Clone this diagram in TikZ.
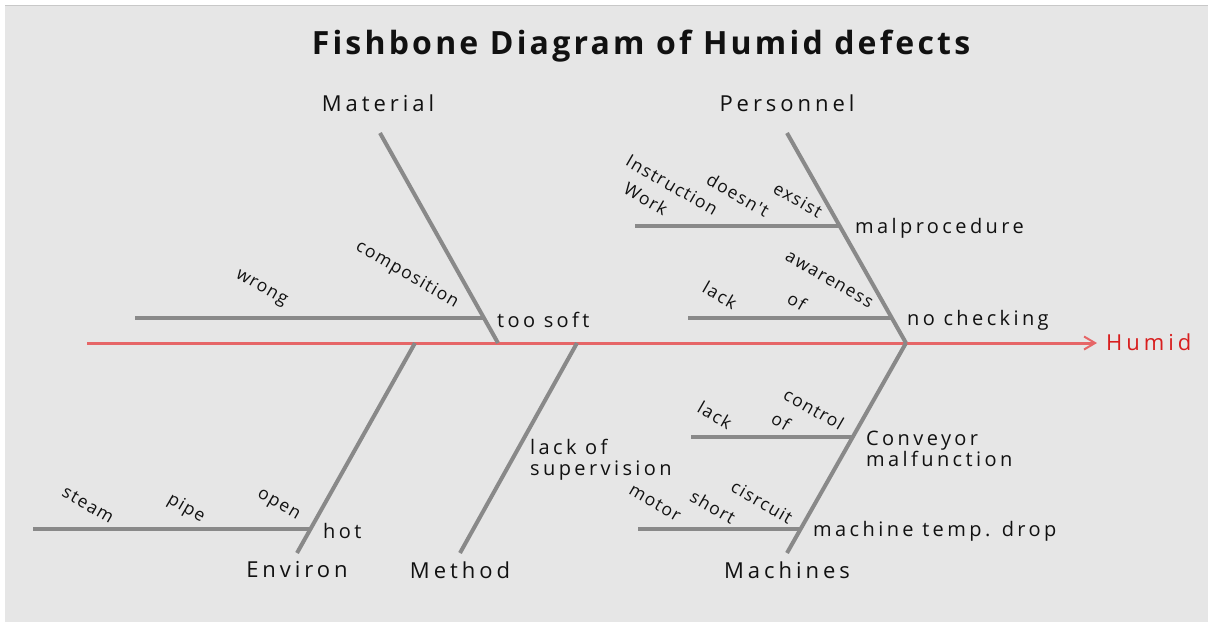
\documentclass[tikz,border=0pt]{standalone}
\usepackage{fontspec}
\setmainfont{Open Sans}
\newfontfamily\headfont{Open Sans}[LetterSpace=10]
\newfontfamily\catfont{Open Sans}[LetterSpace=18]
\newfontfamily\causefont{Open Sans}[LetterSpace=17]
\newfontfamily\wordfont{Open Sans}[LetterSpace=8]
\usetikzlibrary{arrows.meta}
\definecolor{panel}{HTML}{E6E6E6}
\definecolor{panelrule}{HTML}{C8C8C8}
\definecolor{bonegray}{HTML}{898989}
\definecolor{spinered}{HTML}{E66667}
\definecolor{effectred}{HTML}{D81E1E}
\definecolor{ink}{HTML}{111111}
\begin{document}
\begin{tikzpicture}[x=1pt,y=-1pt,
  bone/.style={draw=bonegray, line width=4pt},
  spine/.style={draw=spinered, line width=3pt,
    -{Straight Barb[length=11pt,width=13pt,line width=2pt]}},
  titletext/.style={font=\headfont\bfseries\fontsize{32}{36}\selectfont, text=ink, inner sep=0pt},
  cat/.style={font=\catfont\fontsize{22}{26}\selectfont, text=ink, inner sep=0pt},
  cause/.style={font=\causefont\fontsize{20}{21}\selectfont, text=ink, anchor=west,
    inner sep=0pt, align=left},
  word/.style={font=\wordfont\fontsize{17.5}{19}\selectfont, text=ink, rotate=-30,
    inner sep=0pt},
]
\useasboundingbox (0,0) rectangle (1208,622);
\fill[panel] (5,6) rectangle (1208,622);
\draw[panelrule, line width=1.5pt] (5,5.5) -- (1208,5.5);

% title
\node[titletext] (title) at (641,46) {Fishbone Diagram of Humid defects};

% spine and effect
\coordinate (tail) at (87,343);
\coordinate (head) at (1097,343);
\draw[spine] (tail) -- (head);
\node[font=\catfont\fontsize{22}{26}\selectfont, text=effectred, anchor=west,
  inner sep=0pt] (effect) at (1106,342) {Humid};

% main bones
\coordinate (matTop) at (380,133);  \coordinate (matJ) at (498,343);
\coordinate (perTop) at (787,133);  \coordinate (perJ) at (906,343);
\coordinate (envJ) at (415,343);    \coordinate (envBot) at (297,553);
\coordinate (metJ) at (577,343);    \coordinate (metBot) at (460,553);
\coordinate (macJ) at (906,343);    \coordinate (macBot) at (787,553);
\draw[bone] (matTop) -- (matJ);
\draw[bone] (perTop) -- (perJ);
\draw[bone] (envJ) -- (envBot);
\draw[bone] (metJ) -- (metBot);
\draw[bone] (macJ) -- (macBot);

% category labels
\node[cat] (material) at (378,103) {Material};
\node[cat] (personnel) at (787,103) {Personnel};
\node[cat] (environ) at (297,570) {Environ};
\node[cat] (method) at (460,570) {Method};
\node[cat] (machines) at (787,570) {Machines};

% Material: too soft
\coordinate (softL) at (135,318); \coordinate (softR) at (484,318);
\draw[bone] (softL) -- (softR);
\node[cause] (soft) at (497,320) {too soft};
\node[word] (w1) at (261,289) {wrong};
\node[word] (w2) at (407,275) {composition};

% Personnel: malprocedure
\coordinate (malL) at (635,226); \coordinate (malR) at (840,226);
\draw[bone] (malL) -- (malR);
\node[cause] (mal) at (855,228) {malprocedure};
\node[word] (p1) at (672,185) {Instruction};
\node[word] (p2) at (646,199) {Work};
\node[word] (p3) at (738,195) {doesn't};
\node[word] (p4) at (798,200) {exsist};

% Personnel: no checking
\coordinate (chkL) at (688,318); \coordinate (chkR) at (892,318);
\draw[bone] (chkL) -- (chkR);
\node[cause] (chk) at (907,320) {no checking};
\node[word] (c1) at (720,295) {lack};
\node[word] (c2) at (797,301) {of};
\node[word] (c3) at (829,280) {awareness};

% Environ: hot
\coordinate (hotL) at (33,529); \coordinate (hotR) at (310,529);
\draw[bone] (hotL) -- (hotR);
\node[cause] (hot) at (323,531) {hot};
\node[word] (e1) at (88,505) {steam};
\node[word] (e2) at (186,509) {pipe};
\node[word] (e3) at (278,506) {open};

% Method
\node[cause] (sup) at (530,460) {lack of\\supervision};

% Machines: conveyor
\coordinate (convL) at (691,437); \coordinate (convR) at (853,437);
\draw[bone] (convL) -- (convR);
\node[cause] (conv) at (866,449) {Conveyor\\malfunction};
\node[word] (m1) at (715,415) {lack};
\node[word] (m2) at (781,421) {of};
\node[word] (m3) at (814,409) {control};

% Machines: temperature drop
\coordinate (tempL) at (638,529); \coordinate (tempR) at (801,529);
\draw[bone] (tempL) -- (tempR);
\node[cause] (temp) at (813,531) {machine temp. drop};
\node[word] (t1) at (655,503) {motor};
\node[word] (t2) at (713,507) {short};
\node[word] (t3) at (762,502) {cisrcuit};
\end{tikzpicture}
\end{document}
